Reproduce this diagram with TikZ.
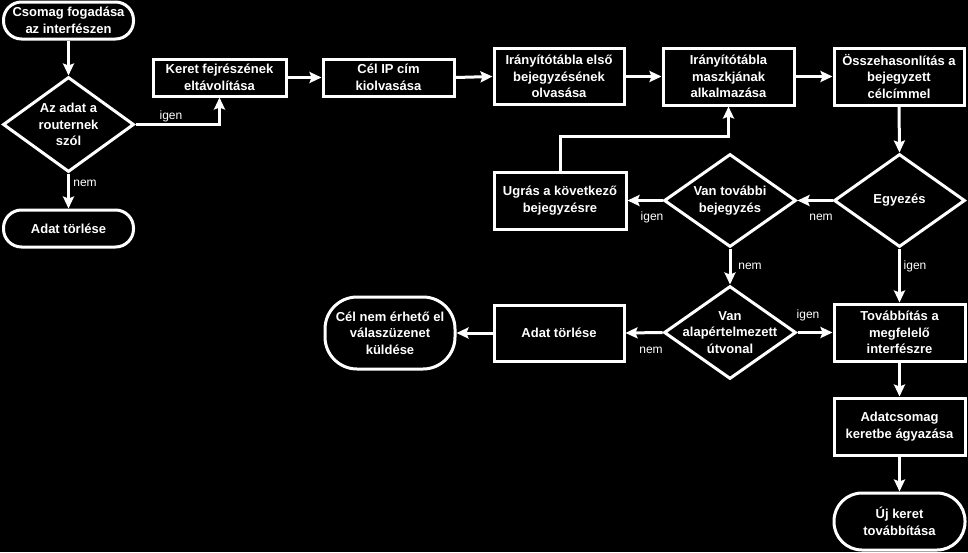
\documentclass[tikz,border=0pt]{standalone}
\usepackage{fontspec}
\setmainfont{Liberation Sans}
\usetikzlibrary{shapes.geometric,arrows.meta}
\begin{document}
\begin{tikzpicture}[x=1pt,y=-1pt,
  every node/.style={text=white},
  boxtxt/.style={font=\bfseries\fontsize{13}{16.5}\selectfont, align=center},
  procbox/.style={boxtxt, draw=white, line width=3pt, rectangle, inner sep=0pt},
  termbox/.style={boxtxt, draw=white, line width=3pt, rectangle, inner sep=0pt},
  decbox/.style={draw=white, line width=3pt, diamond, inner sep=0pt, aspect=1.4},
  lbl/.style={font=\fontsize{12}{14}\selectfont, inner sep=0pt},
  conn/.style={draw=white, line width=3pt, -{Stealth[length=12pt,width=11pt,inset=2pt]}}
]
\fill[black] (0,0) rectangle (968,552);
\useasboundingbox (0,0) rectangle (968,552);

% terminals
\node[termbox, minimum width=130pt, minimum height=37pt, rounded corners=18pt] (t1) at (68.5,20.5) {Csomag fogadása\\az interfészen};
\node[termbox, minimum width=130pt, minimum height=37pt, rounded corners=18pt] (t2) at (68.5,228.5) {Adat törlése};
\node[termbox, minimum width=130pt, minimum height=72pt, rounded corners=32pt] (t3) at (390,333) {Cél nem érhető el\\válaszüzenet\\küldése};
\node[termbox, minimum width=131pt, minimum height=57pt, rounded corners=28pt] (t4) at (899.5,521.5) {Új keret\\továbbítása};

% process boxes
\node[procbox, minimum width=133pt, minimum height=37pt] (b1) at (219.5,77.5) {Keret fejrészének\\eltávolítása};
\node[procbox, minimum width=131pt, minimum height=37pt] (b2) at (388.5,77.5) {Cél IP cím\\kiolvasása};
\node[procbox, minimum width=130pt, minimum height=56pt] (b3) at (559,76.5) {Irányítótábla első\\bejegyzésének\\olvasása};
\node[procbox, minimum width=131pt, minimum height=57pt] (b4) at (728.5,76.5) {Irányítótábla\\maszkjának\\alkalmazása};
\node[procbox, minimum width=130pt, minimum height=57pt] (b5) at (899,76.5) {Összehasonlítás a\\bejegyzett\\célcímmel};
\node[procbox, minimum width=132pt, minimum height=57pt] (b6) at (560,200.5) {Ugrás a következő\\bejegyzésre};
\node[procbox, minimum width=130pt, minimum height=56pt] (b7) at (559,333) {Adat törlése};
\node[procbox, minimum width=131pt, minimum height=57pt] (b8) at (899.5,332.5) {Továbbítás a\\megfelelő\\interfészre};
\node[procbox, minimum width=131pt, minimum height=57pt] (b9) at (899.5,426.5) {Adatcsomag\\keretbe ágyazása};

% decisions
\node[decbox, minimum width=131pt, minimum height=95pt] (d1) at (68.5,124.5) {};
\node[boxtxt] at (d1) {Az adat a\\routernek\\szól};
\node[decbox, minimum width=132pt, minimum height=93pt] (d2) at (730,200.5) {};
\node[boxtxt] at (d2) {Van további\\bejegyzés};
\node[decbox, minimum width=131pt, minimum height=93pt] (d3) at (899.5,200.5) {};
\node[boxtxt] at (d3) {Egyezés};
\node[decbox, minimum width=132pt, minimum height=93pt] (d4) at (730,332.5) {};
\node[boxtxt] at (d4) {Van\\alapértelmezett\\útvonal};

% connectors
\draw[conn] (t1.south) -- (d1.north);
\draw[conn] (d1.south) -- (t2.north);
\draw[conn] (d1.east) -| (b1.south);
\draw[conn] (b1.east) -- (b2.west);
\draw[conn] (b2.east) -- (b3.west);
\draw[conn] (b3.east) -- (b4.west);
\draw[conn] (b4.east) -- (b5.west);
\draw[conn] (b5.south) -- (d3.north);
\draw[conn] (d3.west) -- (d2.east);
\draw[conn] (d2.west) -- (b6.east);
\draw[conn] (b6.north) -- ++(0,-34) -| (b4.south);
\draw[conn] (d2.south) -- (d4.north);
\draw[conn] (d3.south) -- (b8.north);
\draw[conn] (d4.east) -- (b8.west);
\draw[conn] (d4.west) -- (b7.east);
\draw[conn] (b7.west) -- (t3.east);
\draw[conn] (b8.south) -- (b9.north);
\draw[conn] (b9.south) -- (t4.north);

% labels
\node[lbl] (l1) at (171,116) {igen};
\node[lbl] (l2) at (85,183) {nem};
\node[lbl] (l3) at (821,217) {nem};
\node[lbl] (l4) at (652,217) {igen};
\node[lbl] (l5) at (750,266) {nem};
\node[lbl] (l6) at (915,266) {igen};
\node[lbl] (l7) at (808,315) {igen};
\node[lbl] (l8) at (651,350) {nem};
\end{tikzpicture}
\end{document}
